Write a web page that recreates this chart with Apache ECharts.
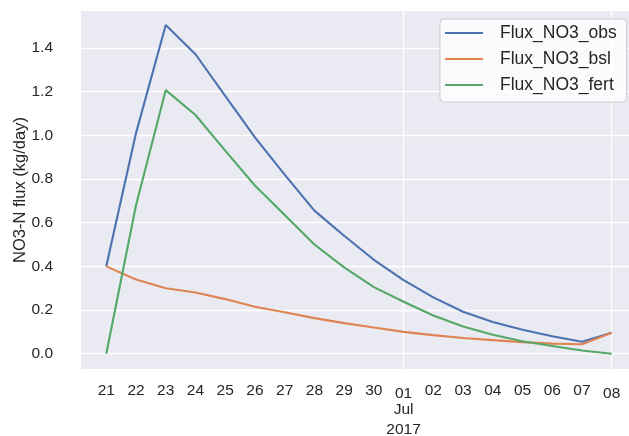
<!DOCTYPE html>
<html>
<head>
<meta charset="utf-8">
<script src="https://cdn.jsdelivr.net/npm/echarts@6/dist/echarts.min.js"></script>
<style>html,body{margin:0;padding:0;background:#fff;}#c{width:629px;height:436px;}</style>
</head>
<body>
<div id="c"></div>
<script>
const dates = ['2017-06-21','2017-06-22','2017-06-23','2017-06-24','2017-06-25','2017-06-26','2017-06-27','2017-06-28','2017-06-29','2017-06-30','2017-07-01','2017-07-02','2017-07-03','2017-07-04','2017-07-05','2017-07-06','2017-07-07','2017-07-08'];
const tickLabels = ['21','22','23','24','25','26','27','28','29','30','01','02','03','04','05','06','07','08'];
const fluxObs  = [0.40, 1.01, 1.505, 1.371, 1.18, 0.99, 0.82, 0.655, 0.54, 0.43, 0.337, 0.258, 0.192, 0.145, 0.11, 0.08, 0.055, 0.096];
const fluxBsl  = [0.40, 0.340, 0.30, 0.28, 0.25, 0.215, 0.19, 0.163, 0.14, 0.12, 0.10, 0.085, 0.072, 0.062, 0.053, 0.046, 0.043, 0.096];
const fluxFert = [0.0, 0.68, 1.207, 1.093, 0.93, 0.77, 0.635, 0.50, 0.395, 0.305, 0.238, 0.175, 0.125, 0.087, 0.057, 0.035, 0.015, 0.0];
const yTicks = [0.0, 0.2, 0.4, 0.6, 0.8, 1.0, 1.2, 1.4];
const majorIdx = [10, 17];

const txt = '#262626';
const font = 'Liberation Sans, Arial, sans-serif';
const chart = echarts.init(document.getElementById('c'), null, {renderer: 'canvas'});
const idx = dates.map((d, i) => i);
const mk = (arr) => arr.map((v, i) => [idx[i], v]);

chart.setOption({
  animation: false,
  backgroundColor: '#ffffff',
  textStyle: {fontFamily: font, color: txt},
  grid: {left: 81, top: 11, width: 556, height: 358, show: true, backgroundColor: '#EAEAF2', borderWidth: 0,
    containLabel: false, outerBoundsMode: 'none'},
  xAxis: {
    type: 'value', min: -0.85, max: 17.85,
    axisLine: {show: false},
    axisTick: {show: false, customValues: majorIdx},
    splitLine: {show: true, lineStyle: {color: '#ffffff', width: 1.3}},
    axisLabel: {
      customValues: idx,
      margin: 13,
      color: txt, fontFamily: font, fontSize: 15.5,
      formatter: function (v) {
        const i = Math.round(v);
        if (i === 10) return '{m|' + tickLabels[i] + '}\n{s|Jul}\n{s|2017}';
        if (i === 17) return '{m|' + tickLabels[i] + '}';
        return '{n|' + tickLabels[i] + '}';
      },
      rich: {
        n: {fontSize: 15.5, lineHeight: 18, color: txt, fontFamily: font},
        m: {fontSize: 15.5, lineHeight: 18, color: txt, fontFamily: font, padding: [5, 0, 0, 0]},
        s: {fontSize: 15.5, lineHeight: 20, color: txt, fontFamily: font}
      }
    }
  },
  yAxis: {
    type: 'value', min: -0.07, max: 1.569,
    name: 'NO3-N flux (kg/day)', nameLocation: 'middle', nameGap: 52, nameMoveOverlap: false,
    nameTextStyle: {fontSize: 16.5, color: txt, fontFamily: font},
    axisLine: {show: false},
    axisTick: {show: false, customValues: yTicks},
    splitLine: {show: true, lineStyle: {color: '#ffffff', width: 1.3}},
    axisLabel: {customValues: yTicks, margin: 28, fontSize: 15.5, color: txt, fontFamily: font,
      formatter: v => v.toFixed(1)}
  },
  legend: {
    orient: 'vertical', left: 440, top: 19,
    padding: [5, 10, 8, 5],
    icon: 'rect',
    itemWidth: 38, itemHeight: 2.2, itemGap: 8,
    backgroundColor: 'rgba(255,255,255,0.8)', borderColor: '#cccccc', borderWidth: 1, borderRadius: 4,
    textStyle: {fontSize: 17.5, color: txt, fontFamily: font, lineHeight: 18, padding: [0, 0, 0, 12]},
    data: ['Flux_NO3_obs', 'Flux_NO3_bsl', 'Flux_NO3_fert']
  },
  series: [
    {name: 'Flux_NO3_obs', type: 'line', data: mk(fluxObs), symbol: 'none', color: '#4C72B0', lineStyle: {width: 2.1, color: '#4C72B0'}, z: 3},
    {name: 'Flux_NO3_bsl', type: 'line', data: mk(fluxBsl), symbol: 'none', color: '#DD8452', lineStyle: {width: 2.1, color: '#DD8452'}, z: 4},
    {name: 'Flux_NO3_fert', type: 'line', data: mk(fluxFert), symbol: 'none', color: '#55A868', lineStyle: {width: 2.1, color: '#55A868'}, z: 5}
  ]
});
</script>
</body>
</html>
